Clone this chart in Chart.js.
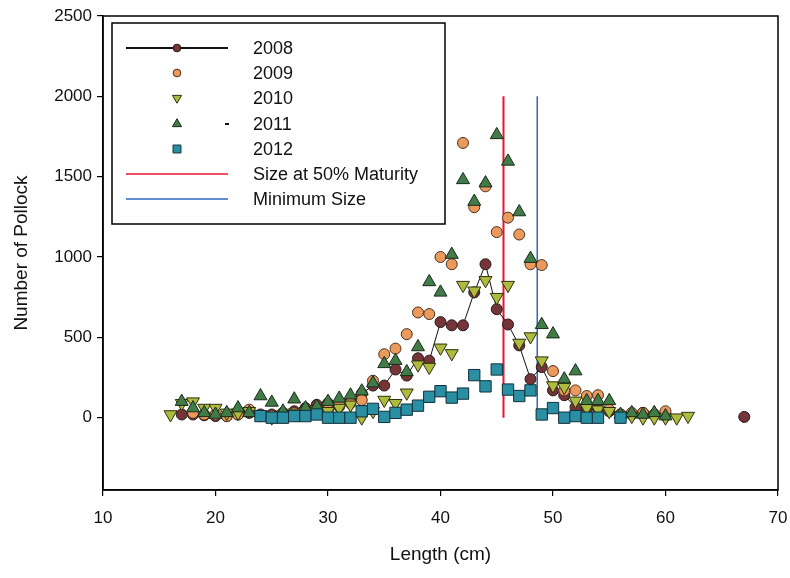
<!DOCTYPE html>
<html>
<head>
<meta charset="utf-8">
<script src="https://cdn.jsdelivr.net/npm/chart.js@4.4.1/dist/chart.umd.min.js"></script>
<style>
  html, body { margin: 0; padding: 0; background: #fff; }
</style>
</head>
<body>
<canvas id="pollockChart" width="790" height="578"></canvas>
<script>
// longitud (cm), un valor por clase
const lengthCm = [16, 17, 18, 19, 20, 21, 22, 23, 24, 25, 26, 27, 28, 29, 30, 31, 32, 33, 34, 35,
  36, 37, 38, 39, 40, 41, 42, 43, 44, 45, 46, 47, 48, 49, 50, 51, 52, 53, 54, 55,
  56, 57, 58, 59, 60, 61, 62, 63, 64, 65, 66, 67];

const pollock2008 = [null, 20, 20, 15, 10, 10, 20, 30, 20, 20, 30, 40, 60, 80, 90, 70, 110, 150, 200, 200,
  300, 262, 370, 355, 595, 575, 575, 780, 955, 675, 580, 450, 240, 315, 170, 140, 65, 55, 55, 40,
  20, 20, 30, 20, 10, null, null, null, null, null, null, 5];
const pollock2009 = [null, null, 30, 20, 20, 10, 20, 50, 10, 10, 20, 30, 40, 30, 50, 80, 90, 110, 230, 395,
  430, 520, 655, 645, 1000, 955, 1710, 1310, 1440, 1155, 1245, 1140, 955, 950, 290, 170, 170, 135, 140, 50,
  20, 30, 30, 20, 40, null, null, null, null, null, null, null];
const pollock2010 = [20, 90, 100, 60, 60, 30, 30, 40, 20, 0, 20, 30, 40, 50, 40, 60, 80, 0, 40, 110,
  90, 155, 330, 315, 435, 400, 825, 790, 855, 750, 825, 465, 505, 355, 200, 190, 105, 60, 50, 40,
  10, 10, 0, 0, 0, 0, 10, null, null, null, null, null];
const pollock2011 = [null, 100, 60, 30, 20, 30, 60, 30, 135, 95, 40, 115, 60, 70, 100, 120, 140, 165, 215, 335,
  355, 285, 440, 845, 780, 1015, 1480, 1345, 1460, 1760, 1595, 1280, 990, 578, 520, 240, 290, 105, 105, 105,
  20, 30, 20, 30, 10, null, null, null, null, null, null, null];
const pollock2012 = [null, null, null, null, null, null, null, null, 10, 0, 0, 10, 10, 20, 0, 0, 0, 40, 55, 5,
  30, 50, 75, 130, 165, 125, 150, 265, 195, 300, 175, 135, 170, 20, 60, 0, 10, 0, 0, null,
  0, null, null, null, null, null, null, null, null, null, null, null];

const maturitySize = 45.6;   // talla al 50% de madurez
const minimumSize = 48.6;    // talla minima
const markerLineTop = 2000;

const yTicks = [0, 500, 1000, 1500, 2000, 2500];
const xTicks = [10, 20, 30, 40, 50, 60, 70];

const fontFamily = '"Liberation Sans", Arial, sans-serif';

function toPoints(values) {
  return lengthCm.map((x, i) => ({ x: x, y: values[i] }));
}

// recuadro completo alrededor del area de la grafica
const framePlugin = {
  id: 'frame',
  afterDraw(chart) {
    const { ctx, chartArea: a } = chart;
    ctx.save();
    ctx.strokeStyle = '#000';
    ctx.lineWidth = 1.5;
    ctx.strokeRect(a.left, a.top, a.right - a.left, a.bottom - a.top);
    ctx.restore();
  }
};

// leyenda dentro del area, como en la figura original
const legendPlugin = {
  id: 'innerLegend',
  afterDraw(chart) {
    const ctx = chart.ctx;
    const box = { left: 112, top: 23, right: 445, bottom: 224 };
    const symX = 177, textX = 253, rowY = [48, 73, 98, 124, 149, 174, 199];
    ctx.save();
    ctx.fillStyle = '#fff';
    ctx.fillRect(box.left, box.top, box.right - box.left, box.bottom - box.top);
    ctx.strokeStyle = '#000';
    ctx.lineWidth = 1.5;
    ctx.strokeRect(box.left, box.top, box.right - box.left, box.bottom - box.top);

    chart.data.datasets.forEach((ds, i) => {
      const y = rowY[i];
      if (ds.showLine) {
        ctx.strokeStyle = ds.borderColor;
        ctx.lineWidth = ds.legendLineWidth || 1.5;
        ctx.beginPath();
        ctx.moveTo(126, y);
        ctx.lineTo(228, y);
        ctx.stroke();
      }
      if (ds.pointRadius > 0) {
        ctx.fillStyle = ds.pointBackgroundColor;
        ctx.strokeStyle = ds.pointBorderColor;
        ctx.lineWidth = 1;
        Chart.helpers.drawPoint(ctx, {
          pointStyle: ds.pointStyle,
          rotation: ds.pointRotation || 0,
          radius: ds.pointRadius * 0.7,
          borderWidth: 1
        }, symX, y);
      }
      ctx.fillStyle = '#111';
      ctx.font = '18px ' + fontFamily;
      ctx.textBaseline = 'middle';
      ctx.textAlign = 'left';
      ctx.fillText(ds.label, textX, y + 1);
    });
    // guion pequeño junto a 2011
    ctx.fillStyle = '#111';
    ctx.fillRect(225, rowY[3] - 1, 4, 2);
    ctx.restore();
  }
};

const data = {
  datasets: [
    {
      label: '2008',
      data: toPoints(pollock2008),
      showLine: true,
      borderColor: '#111',
      borderWidth: 1,
      legendLineWidth: 2,
      pointStyle: 'circle',
      pointRadius: 5.5,
      pointBackgroundColor: '#743438',
      pointBorderColor: '#2a1a1a',
      pointBorderWidth: 1,
      order: 5
    },
    {
      label: '2009',
      data: toPoints(pollock2009),
      showLine: false,
      pointStyle: 'circle',
      pointRadius: 5.5,
      pointBackgroundColor: '#ec9a5c',
      pointBorderColor: '#4a3020',
      pointBorderWidth: 1,
      order: 4
    },
    {
      label: '2010',
      data: toPoints(pollock2010),
      showLine: false,
      pointStyle: 'triangle',
      pointRotation: 180,
      pointRadius: 7.5,
      pointBackgroundColor: '#aebb3c',
      pointBorderColor: '#2c3010',
      pointBorderWidth: 1,
      order: 3
    },
    {
      label: '2011',
      data: toPoints(pollock2011),
      showLine: false,
      pointStyle: 'triangle',
      pointRadius: 7.5,
      pointBackgroundColor: '#417c48',
      pointBorderColor: '#1a2a1a',
      pointBorderWidth: 1,
      order: 2
    },
    {
      label: '2012',
      data: toPoints(pollock2012),
      showLine: false,
      pointStyle: 'rect',
      pointRadius: 8,
      pointBackgroundColor: '#2a8fa2',
      pointBorderColor: '#10303a',
      pointBorderWidth: 1,
      order: 1
    },
    {
      label: 'Size at 50% Maturity',
      data: [{ x: maturitySize, y: 0 }, { x: maturitySize, y: markerLineTop }],
      showLine: true,
      borderColor: '#e8152e',
      borderWidth: 2,
      pointRadius: 0,
      order: 6
    },
    {
      label: 'Minimum Size',
      data: [{ x: minimumSize, y: 0 }, { x: minimumSize, y: markerLineTop }],
      showLine: true,
      borderColor: '#2f66c4',
      borderWidth: 1.5,
      pointRadius: 0,
      order: 6
    }
  ]
};

const config = {
  type: 'scatter',
  data: data,
  options: {
    responsive: false,
    animation: false,
    layout: { padding: { top: 16, right: 12, left: 0, bottom: 0 } },
    plugins: {
      legend: { display: false },
      tooltip: { enabled: false }
    },
    scales: {
      x: {
        type: 'linear',
        min: 10,
        max: 70,
        afterBuildTicks: (axis) => { axis.ticks = xTicks.map(v => ({ value: v })); },
        afterFit: (axis) => {
          axis.height = 88;
          axis.paddingLeft = 0;
          axis.paddingRight = 0;
        },
        grid: { drawOnChartArea: false, drawTicks: true, tickLength: 6, color: '#000', lineWidth: 1.2 },
        border: { display: true, color: '#000', width: 1.5 },
        ticks: {
          color: '#111',
          font: { size: 17, family: fontFamily },
          padding: 12,
          maxRotation: 0,
          callback: (v) => String(v)
        },
        title: {
          display: true,
          text: 'Length (cm)',
          color: '#111',
          font: { size: 19, family: fontFamily },
          padding: { top: 0, bottom: 12 }
        }
      },
      y: {
        type: 'linear',
        min: -450,
        max: 2500,
        afterBuildTicks: (axis) => { axis.ticks = yTicks.map(v => ({ value: v })); },
        afterFit: (axis) => { axis.width = 103; },
        grid: { drawOnChartArea: false, drawTicks: true, tickLength: 6, color: '#000', lineWidth: 1.2 },
        border: { display: true, color: '#000', width: 1.5 },
        ticks: {
          color: '#111',
          font: { size: 17, family: fontFamily },
          padding: 5,
          callback: (v) => String(v)
        },
        title: {
          display: true,
          text: 'Number of Pollock',
          color: '#111',
          font: { size: 19, family: fontFamily },
          padding: { top: 10, bottom: 0 }
        }
      }
    }
  },
  plugins: [framePlugin, legendPlugin]
};

new Chart(document.getElementById('pollockChart').getContext('2d'), config);
</script>
</body>
</html>
